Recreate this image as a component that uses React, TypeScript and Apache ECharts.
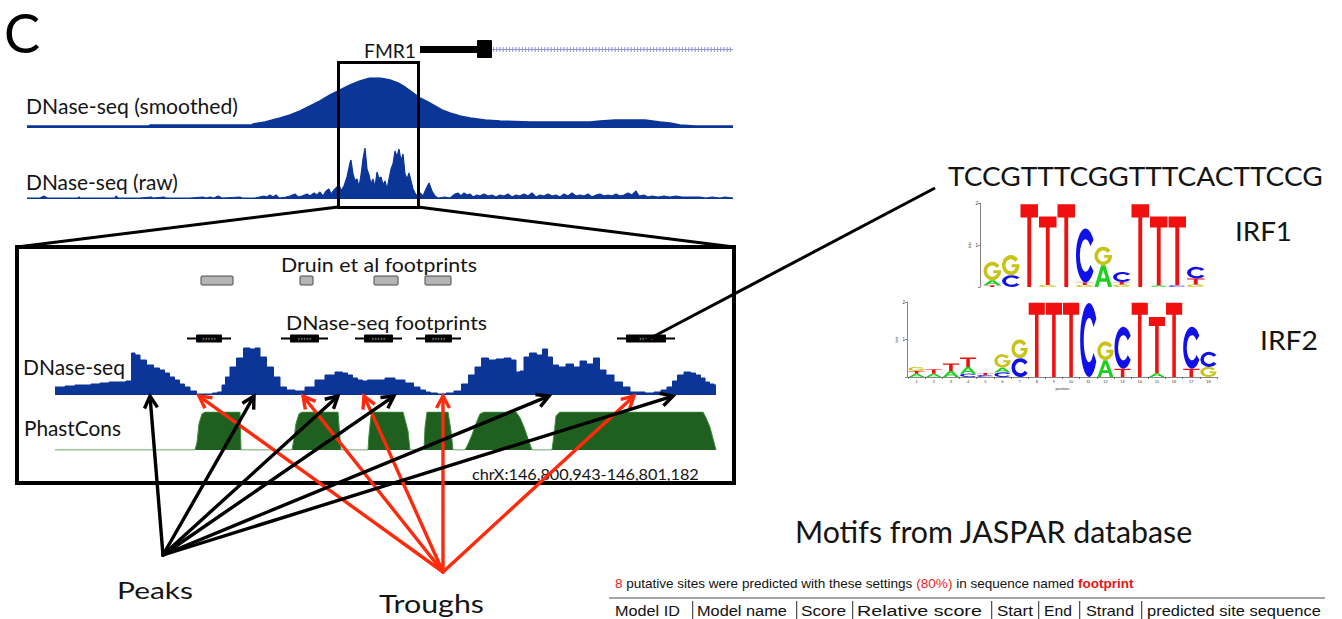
import React, { useEffect, useRef } from "react";
import * as echarts from "echarts";

const FONT = "Lato, 'Open Sans', 'DejaVu Sans', sans-serif";
const TABLE_FONT = "'Liberation Sans', Arial, sans-serif";
const BLUE = "#0b3597";
const GREEN = "#1f5f1f";
const RED = "#ff2a0c";
const INK = "#141414";

// ---------------- data ----------------
// DNase-seq (smoothed), whole locus: [position, signal]
const smoothedTrack: number[][] = [
  [27, 2], [100, 2], [149, 2], [150, 3], [252, 3], [253, 4], [265, 6], [280, 10], [290, 13],
  [300, 17], [310, 22], [320, 27], [330, 33], [340, 38], [350, 43], [360, 47], [370, 50],
  [380, 50], [390, 48], [398, 45], [405, 41], [412, 36], [420, 30], [428, 26], [435, 22],
  [442, 18], [450, 15], [460, 12], [470, 10], [485, 8], [500, 7], [530, 6], [560, 6],
  [590, 6], [600, 7], [615, 8], [630, 8], [645, 8], [660, 6], [670, 5], [680, 3], [695, 2], [733, 2],
];

// DNase-seq (raw), whole locus
const rawTrack: number[][] = [
  [27, 1], [40, 1], [44, 3], [47, 1], [60, 1], [78, 1], [79, 2], [80, 1], [100, 1], [115, 1],
  [116, 3], [118, 1], [140, 1], [151, 2], [153, 1], [164, 2], [166, 1], [190, 1], [203, 2],
  [206, 1], [210, 2], [214, 1], [218, 3], [222, 1], [240, 2], [242, 1], [255, 1], [264, 3],
  [267, 2], [270, 4], [273, 2], [276, 4], [279, 1], [286, 2], [290, 3], [295, 5], [298, 2],
  [302, 3], [307, 5], [310, 3], [314, 6], [317, 4], [320, 7], [323, 3], [326, 8], [329, 10],
  [331, 5], [334, 9], [337, 12], [339, 15], [341, 8], [344, 13], [347, 22], [350, 36], [351, 39],
  [353, 25], [355, 18], [357, 20], [359, 12], [361, 24], [363, 40], [365, 51], [367, 30],
  [369, 24], [371, 15], [373, 20], [375, 12], [377, 27], [379, 20], [381, 22], [383, 14],
  [385, 18], [387, 10], [389, 20], [391, 30], [393, 35], [395, 48], [397, 42], [399, 50],
  [401, 38], [403, 45], [405, 25], [407, 20], [409, 26], [411, 18], [413, 10], [415, 6],
  [417, 3], [420, 6], [423, 3], [426, 10], [429, 16], [432, 8], [435, 3], [438, 1], [445, 2],
  [450, 1], [455, 5], [458, 6], [461, 3], [464, 6], [467, 4], [470, 5], [473, 2], [477, 4],
  [480, 3], [484, 5], [488, 3], [492, 4], [496, 2], [500, 4], [504, 3], [508, 5], [512, 2],
  [516, 4], [520, 3], [524, 5], [528, 3], [532, 6], [536, 2], [540, 4], [544, 3], [548, 5],
  [552, 3], [556, 4], [560, 2], [564, 5], [568, 3], [572, 6], [576, 3], [580, 4], [584, 3],
  [588, 5], [592, 2], [596, 4], [600, 5], [604, 3], [608, 4], [612, 3], [616, 5], [620, 3],
  [624, 4], [628, 6], [632, 4], [636, 8], [639, 3], [644, 4], [648, 2], [652, 3], [658, 2],
  [664, 3], [670, 2], [676, 3], [682, 2], [690, 2], [700, 2], [706, 1], [712, 2], [720, 1],
  [725, 2], [733, 1],
];

// DNase-seq, zoomed footprint window
const dnaseTrack: number[][] = [
  [55, 8], [60, 8], [70, 9], [80, 10], [87, 10], [95, 11], [105, 12], [113, 13], [122, 13],
  [130, 14], [133, 42], [137, 40], [143, 35], [150, 30], [157, 27], [162, 25], [167, 22],
  [172, 18], [177, 15], [182, 11], [187, 8], [193, 4], [200, 1], [205, 1], [210, 1], [215, 2],
  [220, 3], [224, 10], [227, 18], [233, 28], [240, 37], [247, 47], [253, 46], [257, 47],
  [263, 38], [270, 28], [277, 18], [283, 8], [290, 5], [300, 4], [310, 8], [320, 15], [330, 20],
  [340, 23], [345, 22], [350, 20], [355, 17], [360, 15], [365, 14], [370, 15], [380, 15],
  [390, 17], [400, 15], [410, 12], [417, 8], [423, 5], [428, 3], [433, 2], [442, 1], [450, 2],
  [458, 4], [465, 11], [472, 20], [478, 28], [485, 37], [492, 35], [500, 36], [508, 37],
  [514, 35], [518, 23], [522, 24], [526, 38], [533, 42], [540, 40], [545, 46], [550, 38],
  [555, 30], [562, 28], [570, 31], [577, 28], [583, 34], [590, 31], [597, 37], [602, 25],
  [610, 20], [618, 13], [627, 8], [633, 3], [640, 3], [650, 2], [658, 3], [664, 5], [670, 8],
  [675, 14], [680, 20], [688, 23], [693, 22], [698, 20], [703, 17], [707, 13], [712, 11], [716, 10],
];

// PhastCons conservation (0..1)
const phastConsTrack: number[][] = [
  [55, 0], [195, 0], [197, 0.2], [199, 0.7], [202, 0.95], [205, 1], [240, 1], [241, 0],
  [292, 0], [294, 0.3], [296, 0.7], [299, 0.95], [302, 1], [338, 1], [340, 0.3], [341, 0],
  [368, 0], [369, 0.4], [371, 0.9], [374, 1], [403, 1], [405, 0.8], [408, 0.5], [410, 0],
  [424, 0], [425, 0.6], [427, 1], [448, 1], [451, 0.5], [453, 0], [465, 0], [468, 0.15],
  [472, 0.4], [476, 0.7], [480, 0.95], [484, 1], [516, 1], [520, 0.85], [524, 0.6], [528, 0.3],
  [532, 0], [552, 0], [554, 0.4], [556, 0.9], [560, 1], [703, 1], [706, 0.85], [710, 0.6],
  [713, 0.3], [716, 0],
];

const druinFootprints: number[][] = [[201, 233], [300, 313], [374, 398], [425, 451]];
const dnaseFootprints: number[][] = [[187, 231], [281, 328], [355, 402], [416, 461], [617, 675]];

const peakPositions = [150, 254, 338, 394, 549, 673];
const troughPositions = [199, 303, 364, 443, 634];

const motifSequence = "TCCGTTTCGGTTTCACTTCCG";

// sequence logos: each column is a bottom-to-top stack of [letter, bits]
const irf1Columns: [string, number][][] = [
  [["T", 0.04], ["A", 0.12], ["G", 0.44]],
  [["C", 0.28], ["G", 0.48]],
  [["T", 1.97]],
  [["G", 0.05], ["T", 1.63]],
  [["T", 1.97]],
  [["G", 0.05], ["T", 0.06], ["C", 1.28]],
  [["A", 0.52], ["G", 0.44]],
  [["G", 0.06], ["T", 0.06], ["C", 0.24]],
  [["T", 1.97]],
  [["A", 0.04], ["T", 1.64]],
  [["C", 0.04], ["T", 1.64]],
  [["G", 0.06], ["T", 0.14], ["C", 0.28]],
];
const irf2Columns: [string, number][][] = [
  [["A", 0.09], ["T", 0.07], ["G", 0.11]],
  [["A", 0.09], ["T", 0.12]],
  [["A", 0.16], ["T", 0.2]],
  [["C", 0.09], ["A", 0.18], ["T", 0.25]],
  [["C", 0.05], ["T", 0.06]],
  [["C", 0.12], ["A", 0.13], ["G", 0.36]],
  [["C", 0.5], ["G", 0.5]],
  [["T", 1.98]],
  [["T", 1.98]],
  [["T", 1.98]],
  [["C", 1.97]],
  [["A", 0.45], ["G", 0.5]],
  [["T", 0.22], ["C", 1.12]],
  [["T", 1.98]],
  [["A", 0.1], ["T", 1.5]],
  [["T", 1.98]],
  [["T", 0.22], ["C", 1.12]],
  [["G", 0.27], ["C", 0.4]],
];
const irf2PositionLabels = ["1", "2", "3", "4", "5", "6", "7", "8", "9", "10", "11", "12", "13", "14", "15", "16", "17", "18"];

const tableHeaders = ["Model ID", "Model name", "Score", "Relative score", "Start", "End", "Strand", "predicted site sequence"];

// ---------------- helpers ----------------
const LETTERS = ["A", "C", "G", "T"];
const LETTER_COLORS = ["#1fcf1f", "#1010e8", "#c9c219", "#f01010"];
const LETTER_PATHS = [
  "M0 100L38 0H62L100 100H78L70 76H30L22 100ZM36 60H64L50 22Z",
  "M91 21.3A50 50 0 1 0 91 78.7L74.6 67.2A30 30 0 1 1 74.6 32.8Z",
  "M91 21.3A50 50 0 1 0 99.7 55.2V45H55V60H78.3A30 30 0 1 1 74.6 32.8Z",
  "M0 0H100V16H61V100H39V16H0Z",
];

function stackLogo(cols: [string, number][][]) {
  const out: number[][] = [];
  cols.forEach((stack, i) => {
    let b = 0;
    stack.forEach(([l, h]) => {
      out.push([i, b, b + h, LETTERS.indexOf(l)]);
      b += h;
    });
  });
  return out;
}

function measure(text: string, font: string) {
  const t = new (echarts.graphic as any).Text({ style: { text, font } });
  return t.getBoundingRect().width || 1;
}

function label(text: string, x: number, y: number, size: number, targetWidth: number | null, align = "left", fill = INK, font = FONT) {
  const f = `${size}px ${font}`;
  const sx = targetWidth ? targetWidth / measure(text, f) : 1;
  return {
    type: "text", x, y, scaleX: sx, silent: true, z: 5,
    style: { text, font: f, fill, align, verticalAlign: "middle" },
  };
}

function logoRender(params: any, api: any) {
  const i = api.value(0), y0 = api.value(1), y1 = api.value(2), li = api.value(3);
  const pb = api.coord([i, y0]);
  const pt = api.coord([i, y1]);
  const w = api.size([1, 0])[0];
  const h = Math.max(pb[1] - pt[1], 0.4);
  return {
    type: "path",
    shape: { pathData: LETTER_PATHS[li], x: pb[0] - w / 2 + 0.5, y: pb[1] - h, width: w - 1, height: h, layout: "cover" },
    style: { fill: LETTER_COLORS[li] },
  };
}

function arrowRender(origin: number[], color: string) {
  return (params: any, api: any) => {
    const tip = api.coord([api.value(0), 0]);
    const tx = tip[0], ty = tip[1] + 1;
    const dx = tx - origin[0], dy = ty - origin[1];
    const len = Math.hypot(dx, dy);
    const ux = dx / len, uy = dy / len, px = -uy, py = ux;
    const L = 12, W = 6.5;
    return {
      type: "group",
      children: [
        { type: "line", shape: { x1: origin[0], y1: origin[1], x2: tx - ux, y2: ty - uy }, style: { stroke: color, lineWidth: 3.4, lineCap: "round" } },
        {
          type: "polyline",
          shape: { points: [[tx - ux * L + px * W, ty - uy * L + py * W], [tx, ty], [tx - ux * L - px * W, ty - uy * L - py * W]] },
          style: { stroke: color, lineWidth: 3.4, fill: null, lineJoin: "miter" },
        },
      ],
    };
  };
}

function druinRender(params: any, api: any) {
  const a = api.coord([api.value(0), 69.5]);
  const b = api.coord([api.value(1), 69.5]);
  return {
    type: "rect",
    shape: { x: a[0], y: a[1] - 4.5, width: b[0] - a[0], height: 9, r: 1 },
    style: { fill: "#b4b4b4", stroke: "#4a4a4a", lineWidth: 1 },
  };
}

function footprintRender(params: any, api: any) {
  const a = api.coord([api.value(0), 11.5]);
  const b = api.coord([api.value(1), 11.5]);
  const y = a[1];
  return {
    type: "group",
    children: [
      { type: "line", shape: { x1: a[0], y1: y, x2: b[0], y2: y }, style: { stroke: "#000", lineWidth: 2 } },
      { type: "rect", shape: { x: a[0] + 9, y: y - 4, width: b[0] - a[0] - 18, height: 8, r: 1 }, style: { fill: "#000" } },
      {
        type: "text", x: (a[0] + b[0]) / 2, y,
        style: { text: "›››››", font: `7px 'DejaVu Sans', sans-serif`, fill: "#bdbdbd", align: "center", verticalAlign: "middle" },
      },
    ],
  };
}

const hiddenValueAxis = (gridIndex: number, min: number, max: number) => ({ gridIndex, type: "value", min, max, show: false });

function buildOption() {
  const colX = [615, 697, 801, 857, 997, 1044, 1086, 1147];
  const sepX = [692, 796, 852, 991, 1038, 1079, 1141];
  const headFont = `14.5px ${TABLE_FONT}`;
  const headTargets = [65, 90, 45, 125, 36, 28, 48, 174];
  const tableEls: any[] = [
    { type: "rect", shape: { x: 609, y: 597, width: 716, height: 2 }, style: { fill: "#a6a6a6" }, silent: true },
    ...sepX.map((x) => ({ type: "rect", shape: { x, y: 601, width: 1, height: 20 }, style: { fill: "#555" }, silent: true })),
    ...sepX.map((x) => ({ type: "rect", shape: { x: x + 1, y: 601, width: 1, height: 20 }, style: { fill: "#d0d0d0" }, silent: true })),
    ...tableHeaders.map((t, i) => ({
      type: "text", x: colX[i], y: 611, silent: true, scaleX: headTargets[i] / measure(t, headFont),
      style: { text: t, font: headFont, fill: "#111", align: "left", verticalAlign: "middle" },
    })),
  ];
  const infoFont = `13px ${TABLE_FONT}`;
  const infoPlain = "8 putative sites were predicted with these settings (80%) in sequence named footprint";
  const infoScale = 512 / measure(infoPlain, infoFont);
  tableEls.push({
    type: "text", x: 615, y: 584, scaleX: infoScale, silent: true,
    style: {
      text: "{r|8} putative sites were predicted with these settings {r|(80%)} in sequence named {b|footprint}",
      font: infoFont, fill: "#111", align: "left", verticalAlign: "middle",
      rich: {
        r: { fill: "#ee2222", font: infoFont },
        b: { fill: "#ee1111", font: `bold 13px ${TABLE_FONT}` },
      },
    },
  });

  const graphics: any[] = [
    // panel letter
    { type: "text", x: 4, y: 32, silent: true, style: { text: "C", font: `54px ${FONT}`, fill: "#000", align: "left", verticalAlign: "middle" } },
    // gene model
    label("FMR1", 416, 50, 20, 52, "right"),
    { type: "rect", shape: { x: 420, y: 46, width: 58, height: 7 }, style: { fill: "#000" }, silent: true },
    { type: "rect", shape: { x: 477, y: 40, width: 15, height: 18, r: 1 }, style: { fill: "#000" }, silent: true },
    { type: "line", shape: { x1: 492, y1: 49.5, x2: 733, y2: 49.5 }, style: { stroke: "#8a8fd2", lineWidth: 1 }, silent: true },
    { type: "line", shape: { x1: 493, y1: 49.5, x2: 731, y2: 49.5 }, style: { stroke: "#9096d8", lineWidth: 5, lineDash: [1, 2.2] }, silent: true },
    // track labels
    label("DNase-seq (smoothed)", 26, 106, 21, 212),
    label("DNase-seq (raw)", 26, 181, 21, 152),
    // zoom box & trapezoid
    { type: "rect", z: 10, shape: { x: 338.5, y: 62.5, width: 80, height: 145 }, style: { stroke: "#000", lineWidth: 3, fill: null }, silent: true },
    { type: "line", z: 10, shape: { x1: 338, y1: 207, x2: 17, y2: 247 }, style: { stroke: "#000", lineWidth: 3 }, silent: true },
    { type: "line", z: 10, shape: { x1: 418, y1: 207, x2: 734, y2: 247 }, style: { stroke: "#000", lineWidth: 3 }, silent: true },
    { type: "rect", z: 1, shape: { x: 17, y: 247, width: 717, height: 236 }, style: { stroke: "#000", lineWidth: 4, fill: null }, silent: true },
    label("Druin et al footprints", 379, 264, 19, 196, "center"),
    label("DNase-seq footprints", 386.5, 322, 19, 201, "center"),
    label("DNase-seq", 23, 367, 22, 102),
    label("PhastCons", 24, 427.5, 21, 97),
    label("chrX:146,800,943-146,801,182", 472, 474, 16, 227),
    label("Peaks", 117, 590, 24, 76),
    label("Troughs", 379, 604, 25, 105),
    // motif annotation
    { type: "line", z: 12, shape: { x1: 645, y1: 341, x2: 935, y2: 188 }, style: { stroke: "#000", lineWidth: 3 }, silent: true },
    label(motifSequence, 948, 175.5, 27, 375),
    label("IRF1", 1235, 231, 27, 57),
    label("IRF2", 1260, 340, 27, 58),
    label("Motifs from JASPAR database", 795, 531, 31, 398),
    ...tableEls,
  ];

  const logoYAxis = (gridIndex: number, offset: number) => ({
    gridIndex, type: "value", min: 0, max: 2, interval: 1, offset,
    axisLine: { show: true, lineStyle: { color: "#333", width: 0.6 } },
    axisTick: { show: true, length: 2, lineStyle: { color: "#333", width: 0.6 } },
    axisLabel: { fontSize: 4.5, margin: 2, color: "#333", formatter: (v: number) => (v === 0 ? "" : String(v)) },
    splitLine: { show: false },
    name: "bits", nameLocation: "middle", nameGap: 9, nameTextStyle: { fontSize: 4, color: "#333" },
  });

  return {
    animation: false,
    backgroundColor: "#fff",
    grid: [
      { left: 27, top: 78, width: 706, height: 50 },
      { left: 27, top: 147, width: 706, height: 52 },
      { left: 55, top: 270, width: 661, height: 80 },
      { left: 55, top: 339, width: 661, height: 56 },
      { left: 55, top: 412, width: 661, height: 38 },
      { left: 983, top: 203, width: 222, height: 84 },
      { left: 908, top: 302, width: 309, height: 75 },
    ],
    xAxis: [
      hiddenValueAxis(0, 27, 733),
      hiddenValueAxis(1, 27, 733),
      hiddenValueAxis(2, 55, 716),
      hiddenValueAxis(3, 55, 716),
      hiddenValueAxis(4, 55, 716),
      { gridIndex: 5, type: "category", data: irf1Columns.map((_, i) => String(i + 1)), show: false },
      {
        gridIndex: 6, type: "category", data: irf2PositionLabels,
        axisLine: { show: true, lineStyle: { color: "#333", width: 0.6 } },
        axisTick: { show: true, length: 2, interval: 0, lineStyle: { color: "#333", width: 0.6 } },
        axisLabel: { fontSize: 4, margin: 2, interval: 0, color: "#333" },
        name: "position", nameLocation: "middle", nameGap: 9, nameTextStyle: { fontSize: 4, color: "#333" },
      },
    ],
    yAxis: [
      hiddenValueAxis(0, 0, 50),
      hiddenValueAxis(1, 0, 52),
      hiddenValueAxis(2, 0, 80),
      hiddenValueAxis(3, 0, 56),
      hiddenValueAxis(4, 0, 1),
      logoYAxis(5, 3),
      logoYAxis(6, 1),
    ],
    graphic: { elements: graphics },
    series: [
      {
        type: "line", xAxisIndex: 0, yAxisIndex: 0, data: smoothedTrack, symbol: "none", silent: true,
        lineStyle: { color: BLUE, width: 1.5 }, areaStyle: { color: BLUE, opacity: 1 },
      },
      {
        type: "line", xAxisIndex: 1, yAxisIndex: 1, data: rawTrack, symbol: "none", silent: true,
        lineStyle: { color: BLUE, width: 1.2 }, areaStyle: { color: BLUE, opacity: 1 },
      },
      {
        type: "line", xAxisIndex: 3, yAxisIndex: 3, data: dnaseTrack, symbol: "none", silent: true, step: "middle",
        lineStyle: { color: BLUE, width: 1 }, areaStyle: { color: BLUE, opacity: 1 },
      },
      {
        type: "line", xAxisIndex: 4, yAxisIndex: 4, data: phastConsTrack, symbol: "none", silent: true,
        lineStyle: { color: "#3d8d3d", width: 1 }, areaStyle: { color: GREEN, opacity: 1 },
      },
      {
        type: "custom", xAxisIndex: 2, yAxisIndex: 2, data: druinFootprints, renderItem: druinRender,
        encode: { x: [0, 1] }, silent: true, clip: false,
      },
      {
        type: "custom", xAxisIndex: 2, yAxisIndex: 2, data: dnaseFootprints, renderItem: footprintRender,
        encode: { x: [0, 1] }, silent: true, clip: false,
      },
      {
        type: "custom", xAxisIndex: 3, yAxisIndex: 3, data: troughPositions.map((p) => [p, 0]),
        renderItem: arrowRender([443, 572], RED), silent: true, clip: false, z: 20,
      },
      {
        type: "custom", xAxisIndex: 3, yAxisIndex: 3, data: peakPositions.map((p) => [p, 0]),
        renderItem: arrowRender([163, 555], "#000"), silent: true, clip: false, z: 21,
      },
      {
        type: "custom", xAxisIndex: 5, yAxisIndex: 5, data: stackLogo(irf1Columns), renderItem: logoRender,
        encode: { x: 0, y: [1, 2] }, silent: true, clip: false,
      },
      {
        type: "custom", xAxisIndex: 6, yAxisIndex: 6, data: stackLogo(irf2Columns), renderItem: logoRender,
        encode: { x: 0, y: [1, 2] }, silent: true, clip: false,
      },
    ],
  };
}

export default function App() {
  const ref = useRef<HTMLDivElement>(null);
  useEffect(() => {
    if (!ref.current) return;
    const chart = echarts.init(ref.current, null, { renderer: "svg" });
    chart.setOption(buildOption() as any);
    return () => chart.dispose();
  }, []);
  return (
    <div
      ref={ref}
      style={{ position: "absolute", left: 0, top: 0, width: 1342, height: 619, background: "#fff" }}
    />
  );
}
